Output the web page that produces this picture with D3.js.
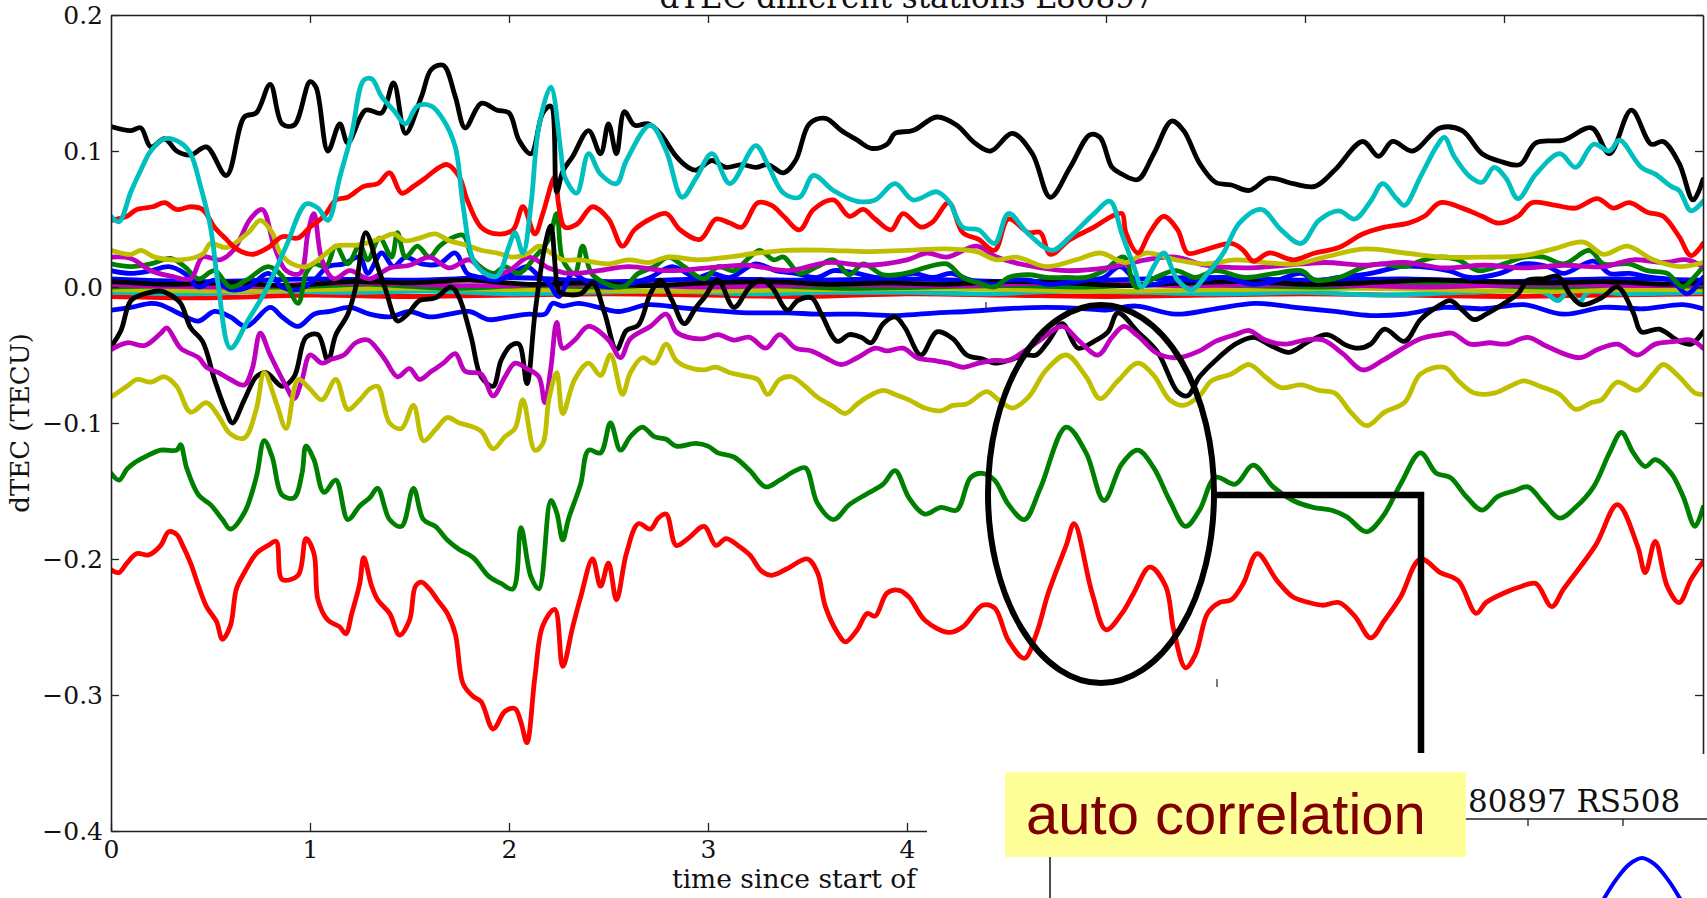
<!DOCTYPE html>
<html><head><meta charset="utf-8">
<script src="https://cdn.jsdelivr.net/npm/d3@7"></script>
<style>html,body{margin:0;padding:0;background:#fff;overflow:hidden}</style>
</head><body>
<svg id="c" width="1707" height="898"></svg>
<script>
// ---------- axis tick data ----------
const xTickVals = [0, 1, 2, 3, 4];
const xTopTicks = [1, 2, 3, 4, 5, 6, 7];
const yTickVals = [0.2, 0.1, 0.0, -0.1, -0.2, -0.3, -0.4];
const yTickLabels = ["0.2", "0.1", "0.0", "\u22120.1", "\u22120.2", "\u22120.3", "\u22120.4"];
const titleText = "dTEC different stations L80897";
const yLabelText = "dTEC (TECU)";
const xLabelText = "time since start of";
const subTitleText = "80897 RS508";
const noteText = "auto correlation";

// ---------- series: [time (h), dTEC (TECU)] ----------
const k2 = [[0,0.004],[0.3,0.002],[0.6,0.003],[0.9,0.001],[1.2,0.004],[1.5,0.003],[1.8,0.005],[2.1,0.002],[2.4,0.003],[2.7,0.001],[3.0,0.003],[3.3,0.004],[3.6,0.002],[3.9,0.003],[4.2,0.002],[4.5,0.004],[4.8,0.003],[5.1,0.001],[5.4,0.003],[5.7,0.004],[6.0,0.002],[6.3,0.003],[6.6,0.005],[6.9,0.004],[7.2,0.003],[7.5,0.004],[7.8,0.002],[8.0,0.003]];
const c2 = [[0,-0.004],[0.4,-0.005],[0.8,-0.003],[1.2,-0.004],[1.6,-0.003],[2.0,-0.005],[2.4,-0.004],[2.8,-0.003],[3.2,-0.005],[3.6,-0.004],[4.0,-0.004],[4.4,-0.005],[4.8,-0.003],[5.2,-0.004],[5.6,-0.005],[6.0,-0.004],[6.4,-0.006],[6.8,-0.004],[7.2,-0.004],[7.27,-0.01],[7.32,-0.004],[7.38,-0.011],[7.42,-0.004],[7.6,-0.005],[8.0,-0.004]];
const r2 = [[0,-0.007],[0.5,-0.008],[1.0,-0.006],[1.5,-0.007],[2.0,-0.006],[2.5,-0.005],[3.0,-0.006],[3.5,-0.007],[4.0,-0.005],[4.5,-0.006],[5.0,-0.007],[5.5,-0.006],[6.0,-0.005],[6.5,-0.006],[7.0,-0.007],[7.5,-0.006],[8.0,-0.005]];
const g3 = [[0,0.0],[0.5,0.001],[0.9,0.0],[1.3,0.002],[1.7,-0.001],[2.1,0.001],[2.5,0.0],[2.9,0.002],[3.3,0.001],[3.7,-0.001],[4.1,0.0],[4.5,0.001],[4.9,0.0],[5.3,0.002],[5.7,0.001],[6.1,0.0],[6.5,0.002],[6.9,0.001],[7.3,0.0],[7.7,0.002],[8.0,0.0]];
const m3 = [[0,0.002],[0.6,0.0],[1.2,0.003],[1.8,0.001],[2.4,0.002],[3.0,0.0],[3.6,0.002],[4.2,0.001],[4.8,0.003],[5.4,0.001],[6.0,0.002],[6.6,0.0],[7.2,0.002],[7.8,0.001],[8.0,0.002]];
const y3 = [[0,-0.002],[0.7,-0.003],[1.4,-0.001],[2.1,-0.002],[2.8,-0.003],[3.5,-0.002],[4.2,-0.001],[4.9,-0.003],[5.6,-0.002],[6.3,-0.001],[7.0,-0.003],[7.7,-0.002],[8.0,-0.002]];
const b3 = [[0,0.006],[0.5,0.004],[1.0,0.006],[1.5,0.005],[2.0,0.007],[2.5,0.004],[3.0,0.006],[3.5,0.005],[4.0,0.006],[4.5,0.004],[5.0,0.005],[5.5,0.007],[6.0,0.005],[6.5,0.006],[7.0,0.004],[7.5,0.006],[8.0,0.005]];

const b2 = [[0,-0.017],[0.1,-0.015],[0.2,-0.012],[0.25,-0.013],[0.35,-0.02],[0.44,-0.025],[0.52,-0.018],[0.6,-0.022],[0.68,-0.029],[0.8,-0.015],[0.86,-0.022],[0.94,-0.029],[1.02,-0.02],[1.1,-0.018],[1.2,-0.015],[1.3,-0.02],[1.4,-0.022],[1.5,-0.018],[1.6,-0.022],[1.7,-0.02],[1.8,-0.018],[1.9,-0.024],[2.0,-0.022],[2.1,-0.02],[2.18,-0.02],[2.22,-0.012],[2.27,-0.014],[2.35,-0.012],[2.45,-0.015],[2.55,-0.018],[2.7,-0.013],[2.85,-0.015],[3.0,-0.017],[3.2,-0.019],[3.4,-0.019],[3.55,-0.02],[3.75,-0.02],[3.95,-0.021],[4.15,-0.019],[4.3,-0.018],[4.5,-0.016],[4.7,-0.015],[4.9,-0.016],[5.0,-0.017],[5.15,-0.014],[5.35,-0.02],[5.55,-0.016],[5.75,-0.012],[5.95,-0.015],[6.15,-0.018],[6.33,-0.021],[6.5,-0.02],[6.7,-0.015],[6.9,-0.016],[7.1,-0.013],[7.3,-0.02],[7.5,-0.015],[7.7,-0.016],[7.9,-0.013],[8.0,-0.016]];
const b1 = [[0,0.012],[0.1,0.01],[0.2,0.012],[0.29,0.015],[0.37,0.01],[0.44,0.0],[0.52,0.005],[0.6,-0.002],[0.69,0.0],[0.79,0.01],[0.86,0.0],[0.94,-0.002],[1.02,0.005],[1.09,0.015],[1.17,0.017],[1.25,0.022],[1.29,0.01],[1.36,0.025],[1.42,0.015],[1.48,0.022],[1.56,0.017],[1.65,0.017],[1.73,0.025],[1.79,0.01],[1.86,0.007],[1.94,0.005],[2.02,0.01],[2.09,0.015],[2.15,0.008],[2.2,0.003],[2.25,-0.007],[2.32,0.01],[2.38,0.005],[2.5,0.0],[2.6,0.002],[2.71,0.007],[2.82,0.015],[2.94,0.007],[3.02,0.01],[3.11,0.007],[3.24,0.017],[3.34,0.012],[3.44,0.01],[3.55,0.007],[3.63,0.012],[3.75,0.01],[3.84,0.007],[3.94,0.007],[4.03,0.01],[4.13,0.007],[4.22,0.01],[4.32,0.005],[4.44,0.002],[4.51,0.005],[4.61,0.005],[4.71,0.002],[4.8,0.003],[4.9,0.005],[4.99,0.007],[5.07,0.015],[5.17,0.002],[5.24,0.002],[5.35,0.005],[5.47,0.005],[5.59,0.007],[5.74,0.002],[5.86,0.005],[5.98,0.01],[6.05,0.005],[6.17,0.007],[6.33,0.01],[6.48,0.015],[6.58,0.015],[6.72,0.012],[6.83,0.007],[6.98,0.01],[7.1,0.017],[7.22,0.015],[7.3,0.01],[7.45,0.019],[7.53,0.01],[7.63,0.01],[7.74,0.007],[7.84,0.005],[7.92,-0.005],[8.0,0.007]];
const g1 = [[0,0.017],[0.1,0.015],[0.2,0.017],[0.3,0.021],[0.37,0.015],[0.44,0.006],[0.52,0.012],[0.6,0.0],[0.68,0.005],[0.79,0.015],[0.86,0.008],[0.94,-0.012],[0.98,0.01],[1.02,0.017],[1.08,0.015],[1.13,0.03],[1.19,0.017],[1.25,0.031],[1.29,0.02],[1.35,0.036],[1.41,0.022],[1.44,0.04],[1.48,0.022],[1.54,0.03],[1.6,0.022],[1.65,0.03],[1.7,0.035],[1.77,0.038],[1.82,0.02],[1.92,0.01],[1.98,0.015],[2.05,0.01],[2.13,0.022],[2.2,0.035],[2.24,0.054],[2.27,0.02],[2.33,0.01],[2.37,0.03],[2.42,0.009],[2.57,0.0],[2.65,0.01],[2.73,0.015],[2.8,0.022],[2.88,0.015],[2.98,0.006],[3.05,0.015],[3.13,0.012],[3.21,0.022],[3.26,0.027],[3.33,0.02],[3.38,0.022],[3.46,0.01],[3.55,0.015],[3.63,0.02],[3.71,0.009],[3.78,0.017],[3.88,0.009],[3.99,0.01],[4.11,0.015],[4.2,0.017],[4.28,0.007],[4.36,0.003],[4.44,0.0],[4.51,0.007],[4.61,0.009],[4.7,0.007],[4.8,0.007],[4.9,0.007],[4.99,0.012],[5.09,0.022],[5.15,0.0],[5.25,0.007],[5.35,0.012],[5.45,0.007],[5.55,0.012],[5.7,0.007],[5.85,0.01],[5.98,0.012],[6.05,0.005],[6.17,0.007],[6.3,0.015],[6.38,0.017],[6.5,0.015],[6.58,0.019],[6.67,0.022],[6.77,0.02],[6.87,0.012],[7.0,0.017],[7.1,0.022],[7.2,0.022],[7.3,0.017],[7.43,0.027],[7.5,0.017],[7.63,0.017],[7.72,0.012],[7.82,0.01],[7.9,0.0],[7.96,0.008],[8.0,0.015]];
const m1 = [[0,0.022],[0.1,0.021],[0.2,0.012],[0.3,0.008],[0.4,0.006],[0.46,0.022],[0.55,0.02],[0.62,0.028],[0.7,0.05],[0.76,0.057],[0.82,0.03],[0.88,0.012],[0.95,0.01],[0.99,0.04],[1.02,0.054],[1.06,0.02],[1.12,0.006],[1.2,0.012],[1.3,0.006],[1.4,0.014],[1.5,0.016],[1.6,0.022],[1.7,0.014],[1.8,0.02],[1.9,0.008],[2.0,0.012],[2.1,0.022],[2.2,0.014],[2.3,0.01],[2.45,0.012],[2.6,0.015],[2.8,0.012],[3.0,0.014],[3.2,0.016],[3.4,0.012],[3.6,0.018],[3.8,0.016],[4.0,0.02],[4.1,0.025],[4.2,0.022],[4.35,0.03],[4.45,0.022],[4.6,0.016],[4.8,0.012],[5.0,0.014],[5.2,0.02],[5.35,0.022],[5.5,0.016],[5.7,0.014],[5.9,0.016],[6.1,0.018],[6.3,0.016],[6.5,0.018],[6.7,0.014],[6.9,0.016],[7.1,0.014],[7.3,0.016],[7.5,0.015],[7.65,0.02],[7.8,0.018],[7.92,0.02],[8.0,0.015]];
const y1 = [[0,0.027],[0.1,0.024],[0.15,0.027],[0.22,0.022],[0.35,0.02],[0.46,0.024],[0.5,0.032],[0.58,0.029],[0.69,0.04],[0.75,0.049],[0.81,0.04],[0.85,0.025],[0.91,0.017],[0.98,0.015],[1.06,0.022],[1.13,0.03],[1.25,0.031],[1.36,0.036],[1.42,0.039],[1.48,0.034],[1.55,0.036],[1.63,0.039],[1.7,0.034],[1.78,0.031],[1.86,0.027],[1.94,0.025],[2.02,0.022],[2.1,0.025],[2.15,0.03],[2.21,0.025],[2.27,0.02],[2.35,0.02],[2.5,0.017],[2.6,0.02],[2.7,0.018],[2.8,0.022],[2.95,0.02],[3.1,0.022],[3.25,0.025],[3.4,0.027],[3.6,0.027],[3.8,0.026],[4.0,0.027],[4.2,0.028],[4.35,0.026],[4.45,0.02],[4.55,0.022],[4.7,0.015],[4.85,0.02],[4.97,0.025],[5.1,0.018],[5.2,0.025],[5.35,0.02],[5.5,0.017],[5.65,0.02],[5.8,0.018],[5.95,0.017],[6.1,0.022],[6.3,0.028],[6.5,0.025],[6.7,0.022],[6.9,0.022],[7.1,0.023],[7.25,0.028],[7.4,0.033],[7.5,0.024],[7.62,0.03],[7.75,0.02],[7.88,0.015],[8.0,0.018]];
const r1 = [[0,0.049],[0.08,0.052],[0.13,0.057],[0.21,0.059],[0.27,0.062],[0.33,0.057],[0.4,0.059],[0.46,0.057],[0.52,0.044],[0.58,0.035],[0.63,0.028],[0.71,0.024],[0.79,0.029],[0.86,0.037],[0.94,0.036],[1.0,0.044],[1.07,0.052],[1.13,0.064],[1.19,0.066],[1.27,0.074],[1.34,0.076],[1.4,0.084],[1.46,0.069],[1.52,0.074],[1.57,0.079],[1.65,0.088],[1.69,0.09],[1.75,0.081],[1.79,0.064],[1.86,0.044],[1.94,0.039],[2.02,0.042],[2.07,0.059],[2.13,0.039],[2.17,0.054],[2.23,0.081],[2.25,0.06],[2.28,0.044],[2.34,0.046],[2.42,0.059],[2.5,0.05],[2.57,0.03],[2.63,0.042],[2.71,0.05],[2.79,0.054],[2.86,0.042],[2.96,0.035],[3.04,0.05],[3.11,0.047],[3.17,0.044],[3.25,0.062],[3.32,0.06],[3.38,0.052],[3.46,0.042],[3.53,0.057],[3.63,0.064],[3.71,0.052],[3.78,0.057],[3.84,0.05],[3.92,0.042],[3.98,0.054],[4.07,0.044],[4.13,0.048],[4.21,0.062],[4.28,0.04],[4.36,0.035],[4.44,0.027],[4.51,0.05],[4.61,0.04],[4.67,0.04],[4.72,0.024],[4.82,0.035],[4.94,0.044],[5.03,0.052],[5.08,0.054],[5.1,0.04],[5.16,0.025],[5.22,0.04],[5.29,0.052],[5.36,0.042],[5.41,0.025],[5.49,0.027],[5.63,0.032],[5.69,0.027],[5.74,0.019],[5.82,0.025],[5.94,0.02],[6.05,0.025],[6.17,0.029],[6.29,0.039],[6.4,0.044],[6.52,0.047],[6.6,0.052],[6.68,0.062],[6.79,0.058],[6.89,0.052],[6.97,0.047],[7.07,0.052],[7.14,0.062],[7.26,0.06],[7.36,0.058],[7.47,0.065],[7.55,0.058],[7.63,0.062],[7.72,0.055],[7.8,0.052],[7.88,0.037],[7.94,0.023],[8.0,0.032]];
const k1 = [[0,0.118],[0.1,0.115],[0.15,0.117],[0.2,0.103],[0.27,0.109],[0.33,0.1],[0.4,0.097],[0.48,0.103],[0.58,0.082],[0.67,0.125],[0.73,0.128],[0.8,0.149],[0.86,0.12],[0.92,0.119],[1.0,0.151],[1.03,0.147],[1.09,0.1],[1.15,0.12],[1.19,0.106],[1.28,0.13],[1.36,0.128],[1.42,0.15],[1.48,0.113],[1.56,0.14],[1.61,0.16],[1.67,0.163],[1.73,0.14],[1.78,0.117],[1.86,0.135],[1.94,0.13],[2.0,0.128],[2.05,0.108],[2.11,0.098],[2.17,0.128],[2.21,0.133],[2.24,0.07],[2.27,0.085],[2.32,0.096],[2.4,0.115],[2.46,0.098],[2.5,0.12],[2.54,0.098],[2.58,0.129],[2.63,0.119],[2.7,0.12],[2.76,0.113],[2.84,0.096],[2.9,0.088],[2.94,0.086],[3.02,0.093],[3.09,0.088],[3.17,0.09],[3.24,0.088],[3.3,0.09],[3.38,0.084],[3.44,0.093],[3.51,0.12],[3.59,0.124],[3.67,0.115],[3.75,0.108],[3.82,0.102],[3.9,0.105],[3.94,0.113],[4.03,0.115],[4.15,0.125],[4.25,0.119],[4.34,0.106],[4.42,0.1],[4.53,0.113],[4.63,0.098],[4.72,0.066],[4.82,0.088],[4.92,0.112],[4.97,0.11],[5.03,0.088],[5.08,0.083],[5.16,0.079],[5.24,0.098],[5.33,0.122],[5.39,0.115],[5.47,0.091],[5.55,0.077],[5.63,0.075],[5.72,0.071],[5.82,0.08],[5.94,0.076],[6.05,0.074],[6.15,0.086],[6.29,0.107],[6.37,0.096],[6.44,0.107],[6.54,0.1],[6.68,0.117],[6.79,0.115],[6.89,0.098],[6.99,0.092],[7.08,0.09],[7.16,0.106],[7.3,0.108],[7.44,0.117],[7.53,0.098],[7.64,0.13],[7.74,0.105],[7.8,0.107],[7.88,0.091],[7.95,0.064],[8.0,0.079]];
const c1 = [[0,0.052],[0.04,0.048],[0.1,0.07],[0.15,0.086],[0.2,0.1],[0.27,0.109],[0.35,0.106],[0.4,0.098],[0.45,0.074],[0.5,0.044],[0.54,0.0],[0.6,-0.045],[0.69,-0.024],[0.78,-0.002],[0.88,0.03],[0.98,0.061],[1.04,0.058],[1.09,0.049],[1.15,0.081],[1.21,0.113],[1.27,0.152],[1.31,0.153],[1.36,0.14],[1.42,0.13],[1.48,0.12],[1.54,0.133],[1.61,0.133],[1.67,0.123],[1.73,0.103],[1.77,0.059],[1.82,0.02],[1.88,0.01],[1.94,0.008],[2.0,0.03],[2.03,0.04],[2.07,0.025],[2.11,0.06],[2.15,0.118],[2.21,0.147],[2.26,0.1],[2.28,0.081],[2.34,0.069],[2.4,0.098],[2.46,0.083],[2.54,0.076],[2.59,0.093],[2.71,0.119],[2.79,0.1],[2.87,0.066],[2.94,0.08],[3.02,0.098],[3.11,0.076],[3.24,0.104],[3.3,0.09],[3.38,0.069],[3.46,0.066],[3.53,0.082],[3.63,0.071],[3.75,0.063],[3.84,0.064],[3.94,0.076],[4.03,0.064],[4.15,0.07],[4.21,0.063],[4.28,0.044],[4.36,0.042],[4.44,0.032],[4.51,0.054],[4.61,0.039],[4.73,0.027],[4.82,0.037],[4.94,0.054],[5.02,0.063],[5.08,0.039],[5.14,0.015],[5.18,0.0],[5.24,0.015],[5.29,0.025],[5.36,0.005],[5.43,-0.002],[5.51,0.01],[5.59,0.025],[5.67,0.047],[5.78,0.057],[5.88,0.042],[5.98,0.032],[6.07,0.049],[6.17,0.056],[6.25,0.05],[6.33,0.063],[6.39,0.076],[6.46,0.065],[6.5,0.06],[6.58,0.081],[6.66,0.103],[6.7,0.11],[6.75,0.096],[6.83,0.081],[6.89,0.077],[6.95,0.088],[7.01,0.08],[7.07,0.065],[7.16,0.083],[7.28,0.098],[7.36,0.088],[7.45,0.105],[7.53,0.1],[7.58,0.108],[7.69,0.088],[7.76,0.083],[7.84,0.074],[7.88,0.071],[7.94,0.056],[8.0,0.063]];
const k3 = [[0,-0.044],[0.05,-0.032],[0.1,-0.01],[0.17,-0.005],[0.25,-0.003],[0.3,-0.006],[0.35,-0.012],[0.4,-0.03],[0.46,-0.04],[0.52,-0.068],[0.58,-0.092],[0.61,-0.1],[0.67,-0.083],[0.73,-0.066],[0.78,-0.063],[0.86,-0.073],[0.92,-0.066],[0.98,-0.037],[1.04,-0.035],[1.09,-0.054],[1.13,-0.035],[1.19,-0.02],[1.23,0.0],[1.28,0.04],[1.34,0.015],[1.38,-0.002],[1.44,-0.025],[1.49,-0.02],[1.55,-0.01],[1.63,-0.008],[1.71,0.0],[1.75,-0.008],[1.81,-0.037],[1.86,-0.066],[1.92,-0.073],[1.96,-0.054],[2.01,-0.043],[2.05,-0.042],[2.09,-0.071],[2.13,-0.02],[2.18,0.03],[2.21,0.045],[2.25,-0.003],[2.27,-0.005],[2.36,-0.005],[2.42,0.003],[2.48,-0.019],[2.54,-0.046],[2.59,-0.032],[2.65,-0.028],[2.71,-0.005],[2.76,0.005],[2.82,-0.01],[2.88,-0.027],[2.94,-0.015],[2.98,-0.008],[3.05,0.005],[3.13,-0.015],[3.21,0.0],[3.27,0.005],[3.32,0.0],[3.4,-0.017],[3.45,-0.01],[3.52,-0.008],[3.57,-0.02],[3.65,-0.04],[3.71,-0.035],[3.77,-0.037],[3.82,-0.041],[3.88,-0.027],[3.94,-0.022],[3.99,-0.03],[4.07,-0.05],[4.15,-0.033],[4.23,-0.038],[4.3,-0.05],[4.38,-0.053],[4.44,-0.056],[4.51,-0.054],[4.59,-0.05],[4.65,-0.05],[4.71,-0.04],[4.78,-0.027],[4.86,-0.045],[4.94,-0.04],[5.01,-0.033],[5.06,-0.019],[5.16,-0.033],[5.26,-0.048],[5.36,-0.077],[5.41,-0.08],[5.47,-0.066],[5.55,-0.054],[5.65,-0.042],[5.74,-0.037],[5.84,-0.044],[5.92,-0.048],[6.02,-0.04],[6.11,-0.035],[6.21,-0.043],[6.27,-0.045],[6.33,-0.042],[6.4,-0.031],[6.5,-0.04],[6.58,-0.024],[6.66,-0.015],[6.73,-0.01],[6.79,-0.017],[6.85,-0.024],[6.91,-0.02],[6.99,-0.013],[7.07,-0.005],[7.12,0.005],[7.2,0.006],[7.27,0.008],[7.33,-0.005],[7.39,-0.013],[7.49,-0.008],[7.57,0.0],[7.65,-0.019],[7.69,-0.033],[7.78,-0.031],[7.88,-0.04],[7.94,-0.042],[8.0,-0.033]];
const m2 = [[0,-0.046],[0.08,-0.041],[0.17,-0.043],[0.25,-0.034],[0.28,-0.03],[0.35,-0.045],[0.44,-0.052],[0.48,-0.059],[0.54,-0.063],[0.6,-0.068],[0.67,-0.072],[0.71,-0.06],[0.75,-0.034],[0.8,-0.05],[0.88,-0.073],[0.92,-0.082],[0.96,-0.068],[1.0,-0.05],[1.06,-0.056],[1.11,-0.053],[1.17,-0.05],[1.23,-0.041],[1.29,-0.039],[1.34,-0.046],[1.38,-0.054],[1.44,-0.066],[1.5,-0.06],[1.55,-0.068],[1.61,-0.062],[1.67,-0.056],[1.73,-0.049],[1.78,-0.062],[1.86,-0.064],[1.92,-0.08],[1.98,-0.066],[2.03,-0.056],[2.09,-0.06],[2.15,-0.066],[2.18,-0.085],[2.21,-0.06],[2.24,-0.026],[2.27,-0.045],[2.33,-0.039],[2.4,-0.029],[2.5,-0.039],[2.56,-0.052],[2.61,-0.038],[2.71,-0.029],[2.79,-0.02],[2.84,-0.033],[2.9,-0.037],[2.98,-0.038],[3.05,-0.035],[3.13,-0.039],[3.21,-0.037],[3.29,-0.045],[3.36,-0.035],[3.44,-0.045],[3.52,-0.047],[3.59,-0.052],[3.67,-0.057],[3.75,-0.052],[3.84,-0.045],[3.9,-0.047],[3.98,-0.045],[4.05,-0.052],[4.13,-0.054],[4.21,-0.056],[4.28,-0.059],[4.36,-0.056],[4.44,-0.054],[4.51,-0.054],[4.59,-0.047],[4.67,-0.039],[4.78,-0.029],[4.86,-0.039],[4.96,-0.05],[5.03,-0.037],[5.09,-0.029],[5.16,-0.036],[5.26,-0.049],[5.36,-0.052],[5.47,-0.047],[5.55,-0.04],[5.65,-0.035],[5.72,-0.032],[5.8,-0.039],[5.9,-0.042],[6.0,-0.039],[6.09,-0.039],[6.19,-0.049],[6.29,-0.061],[6.39,-0.054],[6.48,-0.046],[6.58,-0.038],[6.68,-0.035],[6.74,-0.034],[6.83,-0.042],[6.93,-0.041],[7.01,-0.042],[7.12,-0.037],[7.22,-0.044],[7.38,-0.052],[7.47,-0.046],[7.57,-0.042],[7.67,-0.05],[7.76,-0.042],[7.86,-0.04],[7.94,-0.039],[8.0,-0.045]];
const y2 = [[0,-0.081],[0.08,-0.073],[0.13,-0.068],[0.2,-0.07],[0.27,-0.066],[0.33,-0.073],[0.4,-0.092],[0.48,-0.085],[0.54,-0.095],[0.6,-0.108],[0.67,-0.111],[0.73,-0.09],[0.77,-0.063],[0.83,-0.085],[0.88,-0.104],[0.94,-0.068],[1.0,-0.075],[1.06,-0.083],[1.13,-0.068],[1.19,-0.09],[1.25,-0.083],[1.3,-0.075],[1.34,-0.073],[1.4,-0.1],[1.46,-0.104],[1.52,-0.087],[1.57,-0.113],[1.63,-0.105],[1.69,-0.096],[1.75,-0.1],[1.8,-0.102],[1.86,-0.106],[1.92,-0.119],[1.98,-0.11],[2.03,-0.104],[2.07,-0.083],[2.13,-0.12],[2.17,-0.115],[2.2,-0.083],[2.24,-0.063],[2.27,-0.093],[2.33,-0.068],[2.4,-0.056],[2.46,-0.065],[2.51,-0.05],[2.57,-0.079],[2.61,-0.063],[2.67,-0.052],[2.73,-0.056],[2.79,-0.042],[2.84,-0.054],[2.9,-0.059],[2.98,-0.061],[3.04,-0.059],[3.11,-0.063],[3.17,-0.065],[3.25,-0.068],[3.3,-0.079],[3.36,-0.068],[3.42,-0.066],[3.48,-0.072],[3.55,-0.081],[3.63,-0.088],[3.69,-0.093],[3.75,-0.086],[3.8,-0.081],[3.88,-0.076],[3.94,-0.079],[4.01,-0.083],[4.09,-0.089],[4.17,-0.091],[4.23,-0.087],[4.3,-0.086],[4.4,-0.077],[4.46,-0.083],[4.53,-0.089],[4.61,-0.081],[4.7,-0.061],[4.8,-0.05],[4.9,-0.066],[4.97,-0.082],[5.06,-0.069],[5.16,-0.056],[5.24,-0.065],[5.32,-0.083],[5.39,-0.087],[5.47,-0.08],[5.53,-0.069],[5.63,-0.064],[5.72,-0.057],[5.8,-0.066],[5.88,-0.074],[5.98,-0.072],[6.07,-0.076],[6.15,-0.078],[6.23,-0.092],[6.31,-0.102],[6.4,-0.092],[6.5,-0.085],[6.58,-0.064],[6.7,-0.059],[6.77,-0.069],[6.85,-0.078],[6.95,-0.078],[7.03,-0.073],[7.1,-0.069],[7.18,-0.073],[7.28,-0.079],[7.36,-0.09],[7.44,-0.085],[7.49,-0.083],[7.57,-0.07],[7.67,-0.076],[7.75,-0.064],[7.8,-0.057],[7.88,-0.066],[7.96,-0.078],[8.0,-0.079]];
const g2 = [[0,-0.137],[0.04,-0.142],[0.08,-0.134],[0.12,-0.129],[0.17,-0.125],[0.25,-0.12],[0.33,-0.12],[0.35,-0.116],[0.38,-0.133],[0.44,-0.153],[0.5,-0.16],[0.56,-0.171],[0.6,-0.178],[0.67,-0.166],[0.73,-0.14],[0.77,-0.113],[0.81,-0.125],[0.86,-0.153],[0.92,-0.155],[0.96,-0.137],[0.98,-0.117],[1.02,-0.127],[1.07,-0.151],[1.13,-0.142],[1.19,-0.171],[1.25,-0.161],[1.3,-0.155],[1.34,-0.148],[1.4,-0.171],[1.46,-0.176],[1.52,-0.148],[1.57,-0.171],[1.63,-0.176],[1.69,-0.186],[1.75,-0.193],[1.82,-0.199],[1.9,-0.213],[1.96,-0.218],[2.02,-0.222],[2.06,-0.177],[2.11,-0.213],[2.15,-0.222],[2.21,-0.157],[2.24,-0.166],[2.27,-0.186],[2.3,-0.17],[2.36,-0.145],[2.4,-0.12],[2.46,-0.122],[2.51,-0.1],[2.56,-0.12],[2.61,-0.11],[2.67,-0.103],[2.73,-0.11],[2.79,-0.112],[2.84,-0.117],[2.94,-0.115],[3.0,-0.117],[3.05,-0.122],[3.13,-0.125],[3.21,-0.135],[3.29,-0.147],[3.36,-0.142],[3.44,-0.135],[3.49,-0.133],[3.55,-0.159],[3.63,-0.171],[3.71,-0.16],[3.8,-0.152],[3.88,-0.145],[3.94,-0.135],[4.01,-0.155],[4.09,-0.167],[4.17,-0.162],[4.25,-0.164],[4.32,-0.14],[4.38,-0.137],[4.44,-0.142],[4.51,-0.16],[4.59,-0.171],[4.67,-0.148],[4.8,-0.103],[4.9,-0.122],[4.99,-0.157],[5.08,-0.13],[5.16,-0.12],[5.24,-0.133],[5.32,-0.157],[5.4,-0.176],[5.47,-0.164],[5.55,-0.14],[5.65,-0.145],[5.74,-0.131],[5.84,-0.147],[5.94,-0.157],[6.04,-0.162],[6.13,-0.164],[6.21,-0.169],[6.31,-0.18],[6.39,-0.169],[6.48,-0.145],[6.58,-0.122],[6.66,-0.137],[6.73,-0.14],[6.81,-0.154],[6.89,-0.164],[6.97,-0.154],[7.05,-0.15],[7.12,-0.147],[7.2,-0.159],[7.28,-0.17],[7.36,-0.162],[7.45,-0.147],[7.53,-0.122],[7.59,-0.107],[7.65,-0.122],[7.71,-0.132],[7.76,-0.127],[7.84,-0.137],[7.9,-0.154],[7.96,-0.176],[8.0,-0.162]];
const r3 = [[0,-0.208],[0.04,-0.21],[0.08,-0.203],[0.13,-0.196],[0.19,-0.197],[0.25,-0.19],[0.29,-0.18],[0.33,-0.182],[0.36,-0.19],[0.4,-0.203],[0.44,-0.22],[0.48,-0.235],[0.53,-0.246],[0.56,-0.259],[0.6,-0.249],[0.63,-0.222],[0.67,-0.21],[0.73,-0.196],[0.79,-0.19],[0.83,-0.187],[0.86,-0.215],[0.94,-0.212],[0.98,-0.185],[1.02,-0.196],[1.04,-0.23],[1.09,-0.245],[1.15,-0.25],[1.18,-0.255],[1.21,-0.24],[1.25,-0.218],[1.27,-0.199],[1.31,-0.22],[1.34,-0.23],[1.4,-0.24],[1.45,-0.256],[1.5,-0.245],[1.53,-0.22],[1.56,-0.217],[1.6,-0.222],[1.64,-0.23],[1.69,-0.24],[1.73,-0.255],[1.77,-0.292],[1.82,-0.301],[1.86,-0.305],[1.92,-0.325],[1.98,-0.312],[2.03,-0.31],[2.06,-0.32],[2.09,-0.335],[2.13,-0.287],[2.17,-0.249],[2.23,-0.237],[2.27,-0.279],[2.32,-0.25],[2.36,-0.228],[2.42,-0.2],[2.46,-0.22],[2.5,-0.203],[2.54,-0.23],[2.59,-0.196],[2.65,-0.174],[2.71,-0.178],[2.75,-0.17],[2.79,-0.167],[2.84,-0.19],[2.9,-0.185],[2.98,-0.176],[3.04,-0.19],[3.09,-0.185],[3.15,-0.19],[3.21,-0.197],[3.27,-0.209],[3.32,-0.212],[3.4,-0.207],[3.5,-0.2],[3.55,-0.21],[3.59,-0.235],[3.65,-0.254],[3.69,-0.261],[3.75,-0.252],[3.8,-0.24],[3.84,-0.242],[3.9,-0.225],[3.96,-0.223],[4.01,-0.228],[4.09,-0.245],[4.21,-0.254],[4.28,-0.25],[4.38,-0.234],[4.44,-0.236],[4.51,-0.26],[4.59,-0.273],[4.65,-0.255],[4.71,-0.225],[4.8,-0.19],[4.84,-0.174],[4.93,-0.225],[5.0,-0.252],[5.08,-0.24],[5.14,-0.225],[5.22,-0.206],[5.3,-0.22],[5.34,-0.252],[5.4,-0.28],[5.45,-0.27],[5.51,-0.24],[5.57,-0.232],[5.63,-0.23],[5.69,-0.218],[5.76,-0.196],[5.86,-0.216],[5.94,-0.228],[6.02,-0.232],[6.09,-0.234],[6.17,-0.232],[6.25,-0.242],[6.33,-0.258],[6.4,-0.245],[6.48,-0.228],[6.58,-0.2],[6.68,-0.21],[6.77,-0.216],[6.86,-0.24],[6.91,-0.232],[7.0,-0.225],[7.09,-0.22],[7.16,-0.218],[7.24,-0.235],[7.3,-0.222],[7.46,-0.19],[7.57,-0.16],[7.67,-0.19],[7.71,-0.21],[7.76,-0.187],[7.82,-0.22],[7.88,-0.232],[7.94,-0.215],[8.0,-0.202]];

// auto-correlation inset (lag, correlation)
const acLag = [-0.5,-0.4,-0.3,-0.2,-0.1,0,0.1,0.2,0.3,0.4,0.5];
const acVal = [0.17,0.38,0.61,0.80,0.94,1.0,0.94,0.80,0.61,0.38,0.17];

// drawing order (first = bottom)
const seriesList = [
  {d: r2, c: "#ff0000"}, {d: c2, c: "#00bfbf"}, {d: y3, c: "#bfbf00"}, {d: g3, c: "#008000"},
  {d: m3, c: "#bf00bf"}, {d: b3, c: "#0000ff"}, {d: k2, c: "#000000"},
  {d: b2, c: "#0000ff"}, {d: b1, c: "#0000ff"}, {d: g1, c: "#008000"}, {d: m1, c: "#bf00bf"},
  {d: y1, c: "#bfbf00"}, {d: r1, c: "#ff0000"}, {d: k1, c: "#000000"}, {d: c1, c: "#00bfbf"},
  {d: k3, c: "#000000"}, {d: m2, c: "#bf00bf"}, {d: y2, c: "#bfbf00"}, {d: g2, c: "#008000"}, {d: r3, c: "#ff0000"}
];

// ---------- layout ----------
const svg = d3.select("#c");
const L = 111, R = 1703, T = 15, B = 831;
const x = d3.scaleLinear().domain([0, 8]).range([L, R]);
const y = d3.scaleLinear().domain([-0.4, 0.2]).range([B, T]);
const serif = "'DejaVu Serif', serif";

svg.append("defs").append("clipPath").attr("id", "plotclip")
  .append("rect").attr("x", L).attr("y", T).attr("width", R - L).attr("height", B - T);

const line = d3.line().x(d => x(d[0])).y(d => y(d[1])).curve(d3.curveCatmullRom.alpha(0.5));
const gl = svg.append("g").attr("clip-path", "url(#plotclip)");
seriesList.forEach(s => {
  gl.append("path").attr("d", line(s.d)).attr("fill", "none")
    .attr("stroke", s.c).attr("stroke-width", 4.8)
    .attr("stroke-linejoin", "round").attr("stroke-linecap", "round");
});

// axes
function styleAxis(g) {
  g.selectAll("path.domain").attr("stroke", "#222").attr("stroke-width", 1.6);
  g.selectAll(".tick line").attr("stroke", "#222").attr("stroke-width", 1.3);
  g.selectAll(".tick text").attr("font-family", serif).attr("font-size", 25).attr("fill", "#111");
}
const ax = svg.append("g");
ax.append("g").attr("transform", `translate(${L},0)`)
  .call(d3.axisLeft(y).tickValues(yTickVals).tickSize(-8).tickSizeOuter(0).tickPadding(8)
    .tickFormat((d, i) => yTickLabels[i]))
  .call(styleAxis);
ax.append("g").attr("transform", `translate(${R},0)`)
  .call(d3.axisRight(y).tickValues(yTickVals).tickSize(-8).tickSizeOuter(0).tickFormat(""))
  .call(styleAxis);
ax.append("g").attr("transform", `translate(0,${T})`)
  .call(d3.axisTop(x).tickValues(xTopTicks).tickSize(-8).tickSizeOuter(0).tickFormat(""))
  .call(styleAxis);
ax.append("g").attr("transform", `translate(0,${B})`)
  .call(d3.axisBottom(x).tickValues(xTickVals).tickSize(-8).tickSizeOuter(0).tickPadding(9)
    .tickFormat(d3.format("d")))
  .call(styleAxis);

// title and labels (title runs off the top edge, as in the source figure)
svg.append("text").attr("x", (L + R) / 2).attr("y", 8).attr("text-anchor", "middle")
  .attr("font-family", serif).attr("font-size", 31).attr("fill", "#111").text(titleText);
svg.append("text").attr("transform", `translate(29,${(T + B) / 2}) rotate(-90)`)
  .attr("text-anchor", "middle").attr("font-family", serif).attr("font-size", 26)
  .attr("fill", "#111").text(yLabelText);
svg.append("text").attr("x", 672).attr("y", 888).attr("font-family", serif)
  .attr("font-size", 26.5).attr("fill", "#111").text(xLabelText);

// stray tick marks from pasted figure
svg.append("line").attr("x1", 986).attr("x2", 986).attr("y1", 302).attr("y2", 310).attr("stroke", "#222").attr("stroke-width", 1.2);
svg.append("line").attr("x1", 1217).attr("x2", 1217).attr("y1", 679).attr("y2", 687).attr("stroke", "#222").attr("stroke-width", 1.2);

// white cover of the pasted lower panel
svg.append("rect").attr("x", 927).attr("y", 754).attr("width", 1707 - 927).attr("height", 898 - 754).attr("fill", "#fff");

// lower (auto-correlation) panel
const ax2 = d3.scaleLinear().domain([-1, 1]).range([1517, 1767]);
const ay2 = d3.scaleLinear().domain([0, 1]).range([960, 858]);
svg.append("defs").append("clipPath").attr("id", "lowclip")
  .append("rect").attr("x", 1050).attr("y", 819).attr("width", 657).attr("height", 79);
svg.append("path").attr("clip-path", "url(#lowclip)")
  .attr("d", d3.line().x((d, i) => ax2(acLag[i])).y(d => ay2(d)).curve(d3.curveCatmullRom)(acVal))
  .attr("fill", "none").attr("stroke", "#0000ff").attr("stroke-width", 4);
svg.append("line").attr("x1", 1050).attr("x2", 1707).attr("y1", 819).attr("y2", 819).attr("stroke", "#222").attr("stroke-width", 1.6);
svg.append("line").attr("x1", 1050).attr("x2", 1050).attr("y1", 819).attr("y2", 898).attr("stroke", "#222").attr("stroke-width", 1.6);
[1528, 1623].forEach(tx => svg.append("line").attr("x1", tx).attr("x2", tx).attr("y1", 819).attr("y2", 826).attr("stroke", "#222").attr("stroke-width", 1.3));
svg.append("text").attr("x", 1468).attr("y", 812).attr("font-family", serif).attr("font-size", 31)
  .attr("fill", "#111").text(subTitleText);

// annotation: ellipse + connector + label
svg.append("ellipse").attr("cx", 1101).attr("cy", 494).attr("rx", 113).attr("ry", 189)
  .attr("fill", "none").attr("stroke", "#000").attr("stroke-width", 6);
svg.append("path").attr("d", "M1213,495 L1421,495 L1421,753").attr("fill", "none")
  .attr("stroke", "#000").attr("stroke-width", 6.5).attr("stroke-linejoin", "miter");
svg.append("rect").attr("x", 1005).attr("y", 772).attr("width", 461).attr("height", 85).attr("fill", "#ffff99");
svg.append("text").attr("x", 1026).attr("y", 834).attr("font-family", "'Liberation Sans', Arial, sans-serif")
  .attr("font-size", 58).attr("fill", "#800000").text(noteText);
</script>
</body></html>
